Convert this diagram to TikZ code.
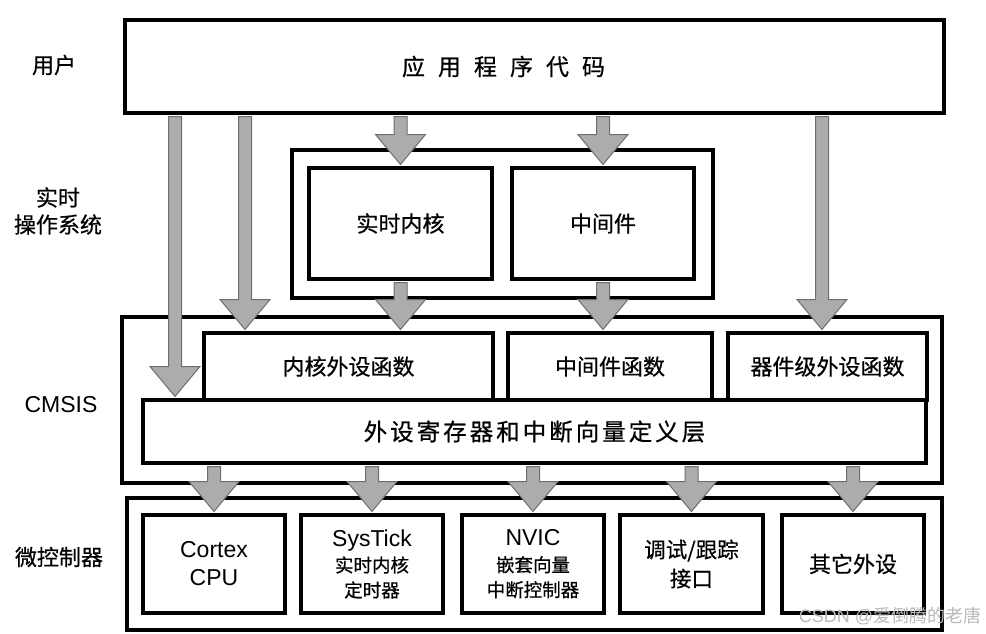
\documentclass[tikz,border=0pt]{standalone}
\usepackage{fontspec}
\setmainfont{Liberation Sans}
\newfontfamily\cjk[FakeBold=0.6]{Noto Sans CJK SC}
\newfontfamily\cjklight{Noto Sans CJK SC}
\usepackage{tikz}
\usetikzlibrary{calc}
\definecolor{flowfill}{RGB}{172,172,172}
\definecolor{flowedge}{RGB}{110,110,110}
\definecolor{markgray}{RGB}{185,185,185}
\newcommand{\cjksmall}{\cjk\fontsize{18.5}{23}\selectfont}
\newcommand{\latinbig}{\fontsize{23}{26}\selectfont}

\begin{document}
\begin{tikzpicture}[x=1pt, y=-1pt,
    box/.style={rectangle, draw, line width=3.5pt, fill=white, align=center, inner sep=0pt, font=\cjk\fontsize{22}{28}\selectfont},
    frame/.style={rectangle, draw, line width=3.5pt, inner sep=0pt},
    side/.style={align=center, font=\cjk\fontsize{22}{27}\selectfont},
    latin/.style={font=\fontsize{23}{28}\selectfont},
    wmark/.style={text=markgray, font=\fontsize{18}{20}\selectfont},
    flow/.style={fill=flowfill, draw=flowedge, line width=1pt,
      to path={let \p1=(\tikztostart), \p2=(\tikztotarget) in
        (\x1-6.5pt,\y1-1.75pt) -- (\x1-6.5pt,\y2+31.75pt) -- (\x1-25pt,\y2+31.75pt) -- (\x1,\y2+1.75pt)
        -- (\x1+25pt,\y2+31.75pt) -- (\x1+6.5pt,\y2+31.75pt) -- (\x1+6.5pt,\y1-1.75pt) -- cycle}}
]
    \useasboundingbox (0,0) rectangle (986,633);

    % Layer names
    \node[side] (l_user) at (54,65) {用户};
    \node[side] (l_rtos) at (58,211) {实时\\操作系统};
    \node[latin] (l_cmsis) at (61,405) {CMSIS};
    \node[side] (l_mcu) at (59,557) {微控制器};

    % User
    \node[box, minimum width=819, minimum height=93, font=\cjk\fontsize{23}{28}\selectfont] (app) at (534.5,66.5)
        {应\hspace{13pt}用\hspace{13pt}程\hspace{13pt}序\hspace{13pt}代\hspace{13pt}码\hspace*{62pt}};

    % RTOS
    \node[frame, minimum width=421, minimum height=148] (rtos) at (502.5,224) {};
    \node[box, minimum width=183, minimum height=111] (kern) at (400.5,223.5) {实时内核};
    \node[box, minimum width=182, minimum height=111] (mid) at (603,223.5) {中间件};

    % CMSIS
    \node[frame, minimum width=820, minimum height=166] (cmsis) at (532,400) {};
    \node[box, minimum width=289, minimum height=67] (kfun) at (348.5,366.5) {内核外设函数};
    \node[box, minimum width=204, minimum height=67] (mfun) at (610,366.5) {中间件函数};
    \node[box, minimum width=199, minimum height=67] (dfun) at (827.5,366.5) {器件级外设函数};
    \node[box, minimum width=783, minimum height=63, font=\cjk\fontsize{23.5}{28}\selectfont] (reg) at (534.5,431.5)
        {外\hspace{3pt}设\hspace{3pt}寄\hspace{3pt}存\hspace{3pt}器\hspace{3pt}和\hspace{3pt}中\hspace{3pt}断\hspace{3pt}向\hspace{3pt}量\hspace{3pt}定\hspace{3pt}义\hspace{3pt}层};

    % Microcontroller
    \node[frame, minimum width=815, minimum height=132] (mcu) at (534.5,564) {};
    \node[box, minimum width=142, minimum height=98, latin] (cpu) at (214,564) {Cortex\\CPU};
    \node[box, minimum width=142, minimum height=98] (tick) at (372,564)
        {{\rmfamily\latinbig SysTick}\\[-2pt]{\cjksmall 实时内核}\\[-3pt]{\cjksmall 定时器}};
    \node[box, minimum width=142, minimum height=98] (nvic) at (533,564)
        {{\rmfamily\latinbig NVIC}\\[-2pt]{\cjksmall 嵌套向量}\\[-3pt]{\cjksmall 中断控制器}};
    \node[box, minimum width=143, minimum height=98, font=\cjk\fontsize{21.5}{29}\selectfont] (dbg) at (691.5,564) {调试/跟踪\\接口};
    \node[box, minimum width=142, minimum height=98] (oth) at (853,564) {其它外设};

    % Arrows
    \coordinate (c1) at (175,0);
    \coordinate (c2) at (245,0);
    \coordinate (c5) at (822,0);
    \path[flow] (app.south -| c1) to (reg.north -| c1);
    \path[flow] (app.south -| c2) to (kfun.north -| c2);
    \path[flow] (app.south -| kern) to (kern.north);
    \path[flow] (app.south -| mid) to (mid.north);
    \path[flow] (app.south -| c5) to (dfun.north -| c5);
    \path[flow] (kern.south) to (kfun.north -| kern);
    \path[flow] (mid.south) to (mfun.north -| mid);
    \foreach \t in {cpu,tick,nvic,dbg,oth}
        \path[flow] (reg.south -| \t) to (\t.north);

    \node[wmark] (wm) at (890,616) {CSDN @{\cjklight 爱倒腾的老唐}};
\end{tikzpicture}
\end{document}
